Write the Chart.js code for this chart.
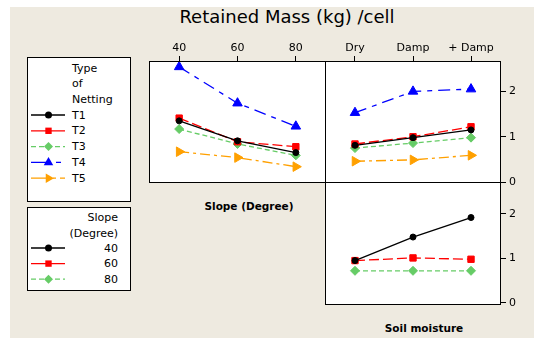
<!DOCTYPE html>
<html>
<head>
<meta charset="utf-8">
<script src="https://cdn.jsdelivr.net/npm/chart.js@4.4.0/dist/chart.umd.min.js"></script>
<style>
    body { margin: 0; width: 534px; height: 338px; overflow: hidden; background: #fff; font-family: "DejaVu Sans", sans-serif; }
    #bg { position: absolute; left: 10px; top: 7px; width: 524px; height: 331px; background: #EEEAE0; }
    canvas { position: absolute; }
    .txt { position: absolute; white-space: nowrap; color: #000; text-align: center; }
    svg { position: absolute; background: #fff; }
</style>
</head>
<body>
<div id="bg"></div>
<div class="txt" style="left:137px;top:6px;width:300px;font-size:18px;">Retained Mass (kg) /cell</div>
<div class="txt" style="left:169px;top:200px;width:160px;font-size:10.5px;font-weight:bold;">Slope (Degree)</div>
<div class="txt" style="left:344px;top:322px;width:160px;font-size:10.5px;font-weight:bold;">Soil moisture</div>

<svg id="legNet" style="left:27px;top:57px;" width="104" height="145"></svg>
<svg id="legSlope" style="left:27px;top:207px;" width="104" height="84"></svg>

<canvas id="slopeChart" width="177" height="153" style="left:149px;top:30px;"></canvas>
<canvas id="moistChart" width="200" height="160" style="left:325px;top:30px;"></canvas>
<canvas id="slopeMoistChart" width="200" height="131" style="left:325px;top:182px;"></canvas>

<script>
// ---- data ----
const slopeTicks = ['40', '60', '80'];
const moistureTicks = ['Dry', 'Damp', '+ Damp'];
const nettingTypes = ['T1', 'T2', 'T3', 'T4', 'T5'];
const slopeTypes = ['40', '60', '80'];
const yTicks = [0, 1, 2];

// retained mass by slope, one array per netting type
const t1Slope = [1.35, 0.91, 0.65];
const t2Slope = [1.41, 0.89, 0.78];
const t3Slope = [1.17, 0.84, 0.59];
const t4Slope = [2.54, 1.74, 1.23];
const t5Slope = [0.67, 0.54, 0.34];

// retained mass by soil moisture, one array per netting type
const t1Moist = [0.81, 0.98, 1.15];
const t2Moist = [0.84, 1.00, 1.22];
const t3Moist = [0.75, 0.86, 0.98];
const t4Moist = [1.53, 2.00, 2.05];
const t5Moist = [0.46, 0.49, 0.59];

// retained mass by soil moisture, one array per slope
const s40Moist = [0.95, 1.48, 1.92];
const s60Moist = [0.95, 1.01, 0.98];
const s80Moist = [0.72, 0.72, 0.72];

// ---- styles ----
const seriesStyles = [
    { color: '#000000', dash: [], legDash: [], point: 'circle', r: 3, rot: 0 },
    { color: '#FF0000', dash: [10, 4], legDash: [], point: 'rect', r: 4.5, rot: 0 },
    { color: '#66CC66', dash: [5, 3], legDash: [5, 3], point: 'rectRot', r: 4.5, rot: 0 },
    { color: '#0000FF', dash: [12, 6, 5, 6], legDash: [20, 5, 5, 5], point: 'triangle', r: 5.5, rot: 0 },
    { color: '#FFA000', dash: [10, 4, 3, 4], legDash: [18, 4, 3, 4], point: 'triangle', r: 5.5, rot: 90 }
];
const tickFont = { family: 'DejaVu Sans', size: 11 };

// white panel with a black frame
const panelFrame = {
    id: 'panelFrame',
    beforeDraw(chart) {
        const a = chart.chartArea, c = chart.ctx;
        c.save();
        c.fillStyle = '#fff';
        c.fillRect(a.left, a.top, a.right - a.left, a.bottom - a.top);
        c.restore();
    },
    afterDraw(chart) {
        const a = chart.chartArea, c = chart.ctx;
        c.save();
        c.strokeStyle = '#000';
        c.lineWidth = 1;
        c.strokeRect(a.left + 0.5, a.top + 0.5, a.right - a.left - 1, a.bottom - a.top - 1);
        c.restore();
    }
};

function makeDatasets(seriesList) {
    return seriesList.map(function (vals, i) {
        var st = seriesStyles[i];
        return {
            data: vals.map(function (v, k) { return { x: k, y: v }; }),
            borderColor: st.color,
            backgroundColor: st.color,
            borderWidth: 1.3,
            borderDash: st.dash,
            pointStyle: st.point,
            pointRadius: st.r,
            pointRotation: st.rot,
            pointBorderWidth: 1,
            tension: 0,
            clip: false
        };
    });
}

function noPad(s) {
    s.paddingTop = 0; s.paddingBottom = 0; s.paddingLeft = 0; s.paddingRight = 0;
}

function xAxis(labels, show) {
    return {
        type: 'linear',
        position: 'top',
        display: show,
        min: -0.517,
        max: 2.517,
        afterBuildTicks: function (s) { s.ticks = labels.map(function (_, i) { return { value: i }; }); },
        afterFit: function (s) { if (show) s.height = 31; noPad(s); },
        border: { display: false },
        grid: { drawOnChartArea: false, drawTicks: true, tickLength: 5, color: '#000' },
        ticks: {
            font: tickFont, color: '#000', padding: 1, maxRotation: 0, autoSkip: false,
            callback: function (v) { return labels[v]; }
        }
    };
}

function yAxis(min, max, show) {
    return {
        type: 'linear',
        position: 'right',
        display: show,
        min: min,
        max: max,
        afterBuildTicks: function (s) { s.ticks = yTicks.map(function (v) { return { value: v }; }); },
        afterFit: function (s) { if (show) s.width = 24; noPad(s); },
        border: { display: false },
        grid: { drawOnChartArea: false, drawTicks: true, tickLength: 5, color: '#000' },
        ticks: { font: tickFont, color: '#000', padding: 3 }
    };
}

function panel(id, datasets, xs, ys, padding) {
    return new Chart(document.getElementById(id), {
        type: 'line',
        data: { datasets: datasets },
        options: {
            responsive: false,
            animation: false,
            layout: { padding: padding, autoPadding: false },
            plugins: { legend: { display: false }, tooltip: { enabled: false } },
            scales: { x: xs, y: ys }
        },
        plugins: [panelFrame]
    });
}

panel('slopeChart',
    makeDatasets([t1Slope, t2Slope, t3Slope, t4Slope, t5Slope]),
    xAxis(slopeTicks, true), yAxis(-0.02, 2.67, false), 0);

panel('moistChart',
    makeDatasets([t1Moist, t2Moist, t3Moist, t4Moist, t5Moist]),
    xAxis(moistureTicks, true), yAxis(-0.02, 2.67, true), { bottom: 7 });

panel('slopeMoistChart',
    makeDatasets([s40Moist, s60Moist, s80Moist]),
    xAxis(moistureTicks, false), yAxis(-0.05, 2.72, true), { bottom: 8 });

// ---- legends (svg) ----
function marker(st, cx, cy) {
    var r = st.r, c = st.color;
    if (st.point === 'circle') return '<circle cx="' + cx + '" cy="' + cy + '" r="' + (r + 0.5) + '" fill="' + c + '"/>';
    if (st.point === 'rect') { var h = r * Math.SQRT1_2; return '<rect x="' + (cx - h) + '" y="' + (cy - h) + '" width="' + 2 * h + '" height="' + 2 * h + '" fill="' + c + '"/>'; }
    if (st.point === 'rectRot') return '<polygon points="' + cx + ',' + (cy - r) + ' ' + (cx + r) + ',' + cy + ' ' + cx + ',' + (cy + r) + ' ' + (cx - r) + ',' + cy + '" fill="' + c + '"/>';
    var a = r * 0.866, b = r * 0.5;
    if (st.rot === 90) return '<polygon points="' + (cx + r) + ',' + cy + ' ' + (cx - b) + ',' + (cy - a) + ' ' + (cx - b) + ',' + (cy + a) + '" fill="' + c + '"/>';
    return '<polygon points="' + cx + ',' + (cy - r) + ' ' + (cx + a) + ',' + (cy + b) + ' ' + (cx - a) + ',' + (cy + b) + '" fill="' + c + '"/>';
}

function legendRow(st, y) {
    return '<line x1="4" x2="38" y1="' + y + '" y2="' + y + '" stroke="' + st.color + '" stroke-width="1.3" stroke-dasharray="' + (st.legDash.join(' ') || 'none') + '"/>' + marker(st, 21.5, y);
}

function txt(s, x, y, anchor) {
    return '<text x="' + x + '" y="' + y + '" font-family="DejaVu Sans" font-size="11" dominant-baseline="central" text-anchor="' + anchor + '">' + s + '</text>';
}

var net = '<rect x="0.5" y="0.5" width="103" height="144" fill="#fff" stroke="#000"/>';
net += txt('Type', 45, 11, 'start') + txt('of', 45, 26, 'start') + txt('Netting', 45, 42, 'start');
nettingTypes.forEach(function (name, i) {
    var y = 58 + i * 15.8;
    net += legendRow(seriesStyles[i], y) + txt(name, 45, y, 'start');
});
document.getElementById('legNet').innerHTML = net;

var sl = '<rect x="0.5" y="0.5" width="103" height="83" fill="#fff" stroke="#000"/>';
sl += txt('Slope', 91, 10, 'end') + txt('(Degree)', 91, 26, 'end');
slopeTypes.forEach(function (name, i) {
    var y = 41 + i * 15.6;
    sl += legendRow(seriesStyles[i], y) + txt(name, 91, y, 'end');
});
document.getElementById('legSlope').innerHTML = sl;
</script>
</body>
</html>
